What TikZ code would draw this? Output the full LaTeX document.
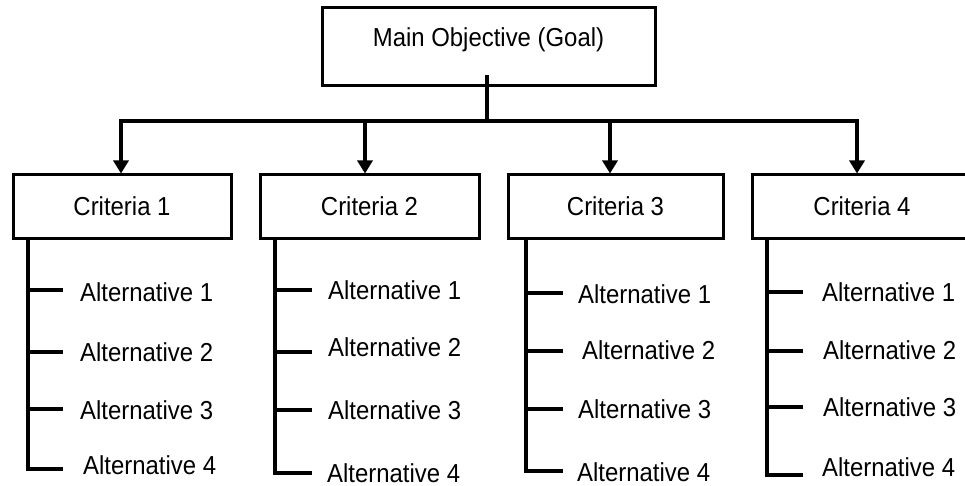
\documentclass[tikz,border=0pt]{standalone}
\usepackage{fontspec}
\setmainfont{Liberation Sans}[FakeStretch=0.92]
\usetikzlibrary{arrows.meta}
\begin{document}
\begin{tikzpicture}[x=1pt,y=-1pt,
  every node/.style={font=\fontsize{26}{30}\selectfont},
  box/.style={draw=black,line width=3pt,fill=white,minimum height=63pt,inner sep=0pt},
  mainbox/.style={box,minimum width=333pt,minimum height=78pt,text height=20pt,text depth=20pt},
  alt/.style={anchor=west,inner sep=0pt},
  link/.style={line width=3.2pt},
  arr/.style={link,-{Triangle[width=15pt,length=13pt]}}
]
\useasboundingbox (0,0) rectangle (965,486);

% main goal
\node[mainbox] (main) at (488.5,47) {Main Objective (Goal)};
\coordinate (stemtop) at (487,75);
\coordinate (hub) at (487,121);
\coordinate (a1) at (121,121);
\coordinate (a2) at (365,121);
\coordinate (a3) at (610,121);
\coordinate (a4) at (857,121);

% criteria
\node[box,minimum width=218pt] (c1) at (122,206.5) {Criteria 1};
\node[box,minimum width=219pt] (c2) at (369.5,206.5) {Criteria 2};
\node[box,minimum width=215pt] (c3) at (615.5,206.5) {Criteria 3};
\node[box,minimum width=220pt] (c4) at (862,206.5) {Criteria 4};

\draw[link] (stemtop) -- (hub);
\draw[link,line cap=rect] (a1) -- (a4);
\draw[arr] (a1) -- (a1 |- c1.north);
\draw[arr] (a2) -- (a2 |- c2.north);
\draw[arr] (a3) -- (a3 |- c3.north);
\draw[arr] (a4) -- (a4 |- c4.north);

% alternatives, column 1
\node[alt] (c1a1) at (80,292) {Alternative 1};
\node[alt] (c1a2) at (80,352) {Alternative 2};
\node[alt] (c1a3) at (80,410) {Alternative 3};
\node[alt] (c1a4) at (83,465) {Alternative 4};
\coordinate (s1) at (28,239);
\coordinate (t1a) at (63,290);
\coordinate (t1b) at (63,352);
\coordinate (t1c) at (63,409);
\coordinate (t1d) at (63,469);
\draw[link] (s1) |- (t1d);
\draw[link] (t1a) -- (s1 |- t1a);
\draw[link] (t1b) -- (s1 |- t1b);
\draw[link] (t1c) -- (s1 |- t1c);

% column 2
\node[alt] (c2a1) at (328,290) {Alternative 1};
\node[alt] (c2a2) at (328,347) {Alternative 2};
\node[alt] (c2a3) at (328,410) {Alternative 3};
\node[alt] (c2a4) at (327,473) {Alternative 4};
\coordinate (s2) at (275,239);
\coordinate (t2a) at (312,290);
\coordinate (t2b) at (312,352);
\coordinate (t2c) at (312,410);
\coordinate (t2d) at (312,473);
\draw[link] (s2) |- (t2d);
\draw[link] (t2a) -- (s2 |- t2a);
\draw[link] (t2b) -- (s2 |- t2b);
\draw[link] (t2c) -- (s2 |- t2c);

% column 3
\node[alt] (c3a1) at (578,294) {Alternative 1};
\node[alt] (c3a2) at (582,350) {Alternative 2};
\node[alt] (c3a3) at (578,409) {Alternative 3};
\node[alt] (c3a4) at (577,472) {Alternative 4};
\coordinate (s3) at (526,239);
\coordinate (t3a) at (563,293);
\coordinate (t3b) at (563,351);
\coordinate (t3c) at (563,409);
\coordinate (t3d) at (563,471);
\draw[link] (s3) |- (t3d);
\draw[link] (t3a) -- (s3 |- t3a);
\draw[link] (t3b) -- (s3 |- t3b);
\draw[link] (t3c) -- (s3 |- t3c);

% column 4
\node[alt] (c4a1) at (822,292) {Alternative 1};
\node[alt] (c4a2) at (823,350) {Alternative 2};
\node[alt] (c4a3) at (823,407) {Alternative 3};
\node[alt] (c4a4) at (822,467) {Alternative 4};
\coordinate (s4) at (767,239);
\coordinate (t4a) at (803,292);
\coordinate (t4b) at (803,351);
\coordinate (t4c) at (803,407);
\coordinate (t4d) at (803,475);
\draw[link] (s4) |- (t4d);
\draw[link] (t4a) -- (s4 |- t4a);
\draw[link] (t4b) -- (s4 |- t4b);
\draw[link] (t4c) -- (s4 |- t4c);
\end{tikzpicture}
\end{document}
